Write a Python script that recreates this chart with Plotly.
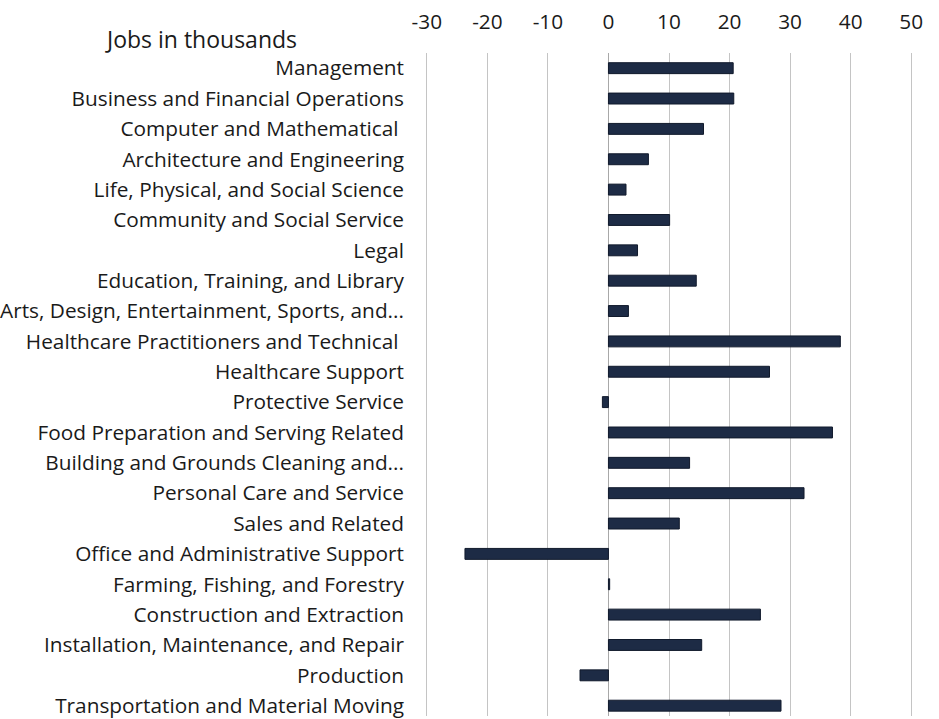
import plotly.graph_objects as go

categories = [
    "Management",
    "Business and Financial Operations",
    "Computer and Mathematical ",
    "Architecture and Engineering",
    "Life, Physical, and Social Science",
    "Community and Social Service",
    "Legal",
    "Education, Training, and Library",
    "Arts, Design, Entertainment, Sports, and...",
    "Healthcare Practitioners and Technical ",
    "Healthcare Support",
    "Protective Service",
    "Food Preparation and Serving Related",
    "Building and Grounds Cleaning and...",
    "Personal Care and Service",
    "Sales and Related",
    "Office and Administrative Support",
    "Farming, Fishing, and Forestry",
    "Construction and Extraction",
    "Installation, Maintenance, and Repair",
    "Production",
    "Transportation and Material Moving",
]
jobs_thousands = [
    20.6, 20.7, 15.7, 6.6, 2.9, 10.1, 4.8, 14.5, 3.3, 38.3, 26.6, -1.0,
    37.0, 13.4, 32.3, 11.7, -23.7, 0.2, 25.1, 15.4, -4.7, 28.5,
]
x_ticks = [-30, -20, -10, 0, 10, 20, 30, 40, 50]

FONT = "Open Sans"
TEXT = "#1a1a1a"
LABEL_SIZE = 20.8

fig = go.Figure(
    go.Bar(
        x=jobs_thousands,
        y=categories,
        orientation="h",
        marker=dict(color="#1d2b45", line=dict(color="#111a2c", width=1)),
        width=0.36,
        hoverinfo="x+y",
    )
)

fig.update_layout(
    width=939,
    height=719,
    margin=dict(l=425, r=26, t=53, b=0),
    paper_bgcolor="white",
    plot_bgcolor="white",
    showlegend=False,
    font=dict(family=FONT, size=LABEL_SIZE, color=TEXT),
    annotations=[
        dict(
            text="Jobs in thousands",
            xref="paper", yref="paper",
            x=-0.458, y=1.0, yshift=-4,
            xanchor="center", yanchor="bottom",
            showarrow=False,
            font=dict(family=FONT, size=23, color=TEXT),
        )
    ],
)

fig.update_xaxes(
    side="top",
    range=[-30.3, 50.3],
    tickvals=x_ticks,
    ticktext=[str(v) for v in x_ticks],
    showgrid=True,
    gridcolor="#c4c4c4",
    gridwidth=1,
    zeroline=True,
    zerolinecolor="#a8a8a8",
    zerolinewidth=1,
    showline=False,
    ticks="",
    ticklabelstandoff=19,
    tickfont=dict(family=FONT, size=LABEL_SIZE, color=TEXT),
    fixedrange=True,
)

fig.update_yaxes(
    type="category",
    categoryorder="array",
    categoryarray=categories,
    range=[21.34, -0.5],
    showgrid=False,
    zeroline=False,
    showline=False,
    ticks="",
    ticklabelstandoff=20,
    tickfont=dict(family=FONT, size=LABEL_SIZE, color=TEXT),
    fixedrange=True,
)

fig.write_html("out.html")
